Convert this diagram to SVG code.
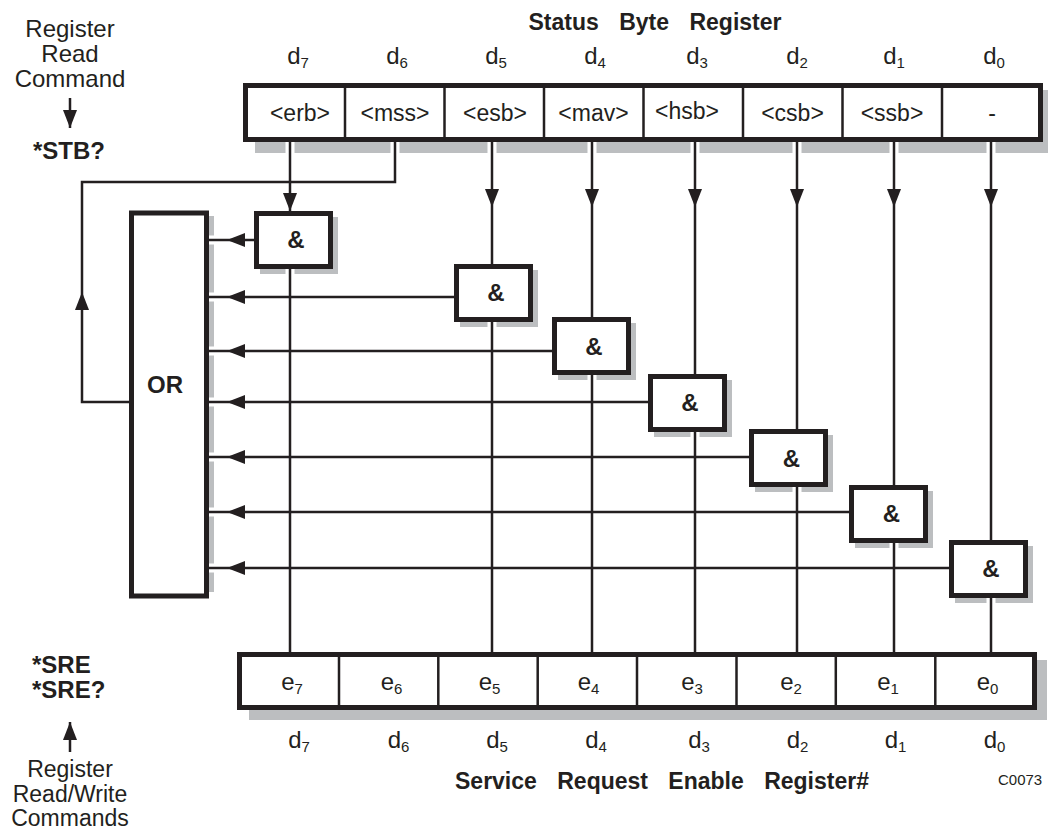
<svg xmlns="http://www.w3.org/2000/svg" width="1052" height="831" viewBox="0 0 1052 831">
<defs>
<marker id="arr" markerUnits="userSpaceOnUse" markerWidth="18" markerHeight="14" viewBox="0 0 18 14" refX="18" refY="7" orient="auto"><path d="M0,0 L18,7 L0,14 Z" fill="#231f20"/></marker>
<style>
.sh{fill:#bcbec0}
.box{fill:#fff;stroke:#231f20;stroke-width:5}
.div{stroke:#231f20;stroke-width:2.5}
.ln{fill:none;stroke:#231f20;stroke-width:2.5}
.halo{fill:none;stroke:#fff;stroke-width:9}
.arr{marker-end:url(#arr)}
text{font-family:"Liberation Sans",Arial,Helvetica,sans-serif;fill:#231f20}
.t{font-size:24px}
.s{font-size:23px}
.cl{font-size:23px}
.b{font-weight:bold}
.c{text-anchor:middle}
.sub{font-size:15px}
.ttl{font-size:23px;font-weight:bold;text-anchor:middle;word-spacing:14px}
</style>
</defs>
<rect width="1052" height="831" fill="#fff"/>

<g id="shadows">
<rect class="sh" x="255" y="90" width="793" height="63"/>
<rect class="sh" x="249" y="660" width="798" height="60"/>
<rect class="sh" x="209" y="216" width="5" height="376"/>
<rect class="sh" x="260" y="217" width="78" height="57"/>
<rect class="sh" x="460" y="270" width="78" height="57"/>
<rect class="sh" x="558" y="323" width="78" height="57"/>
<rect class="sh" x="654" y="380" width="78" height="57"/>
<rect class="sh" x="755" y="435" width="78" height="57"/>
<rect class="sh" x="855" y="491" width="78" height="57"/>
<rect class="sh" x="955" y="546" width="78" height="57"/>
</g>

<g id="connectors">
<g class="halo">
<path d="M290,142V652M395,142V182M492,142V652M592,142V652M695,142V652M797,142V652M894,142V652M991,142V652"/>
<path d="M254,240H209M454,297H209M552,351H209M648,402H209M749,457H209M849,512H209M949,568H209"/>
</g>
<g class="ln">
<path class="arr" d="M290,142V211"/><path d="M290,211V652"/>
<path class="arr" d="M492,142V207"/><path d="M492,207V652"/>
<path class="arr" d="M592,142V207"/><path d="M592,207V652"/>
<path class="arr" d="M695,142V207"/><path d="M695,207V652"/>
<path class="arr" d="M797,142V207"/><path d="M797,207V652"/>
<path class="arr" d="M894,142V207"/><path d="M894,207V652"/>
<path class="arr" d="M991,142V207"/><path d="M991,207V652"/>
<path class="arr" d="M254,240H227"/><path d="M227,240H209"/>
<path class="arr" d="M454,297H227"/><path d="M227,297H209"/>
<path class="arr" d="M552,351H227"/><path d="M227,351H209"/>
<path class="arr" d="M648,402H227"/><path d="M227,402H209"/>
<path class="arr" d="M749,457H227"/><path d="M227,457H209"/>
<path class="arr" d="M849,512H227"/><path d="M227,512H209"/>
<path class="arr" d="M949,568H227"/><path d="M227,568H209"/>
<path class="arr" d="M130,402H82V292"/><path d="M82,292V182H395V142"/>
<path class="arr" d="M70,98V128"/>
<path class="arr" d="M70,752V722"/>
</g>
</g>

<g id="status-byte-register">
<rect class="box" x="245.5" y="85.5" width="795" height="54"/>
<path class="div" d="M345,85.5V139.5M444.5,85.5V139.5M544,85.5V139.5M643.5,85.5V139.5M743,85.5V139.5M842.5,85.5V139.5M942,85.5V139.5"/>
<text class="cl c" x="300" y="121">&lt;erb&gt;</text>
<text class="cl c" x="395" y="121">&lt;mss&gt;</text>
<text class="cl c" x="495" y="121">&lt;esb&gt;</text>
<text class="cl c" x="593.5" y="121">&lt;mav&gt;</text>
<text class="cl c" x="687" y="119">&lt;hsb&gt;</text>
<text class="cl c" x="792.5" y="121">&lt;csb&gt;</text>
<text class="cl c" x="892" y="121">&lt;ssb&gt;</text>
<text class="cl c" x="992" y="121">-</text>
<text class="ttl" x="655" y="30">Status Byte Register</text>
<text class="t c" x="298" y="64">d<tspan class="sub" dy="4">7</tspan></text>
<text class="t c" x="397" y="64">d<tspan class="sub" dy="4">6</tspan></text>
<text class="t c" x="496" y="64">d<tspan class="sub" dy="4">5</tspan></text>
<text class="t c" x="595" y="64">d<tspan class="sub" dy="4">4</tspan></text>
<text class="t c" x="697" y="64">d<tspan class="sub" dy="4">3</tspan></text>
<text class="t c" x="797" y="64">d<tspan class="sub" dy="4">2</tspan></text>
<text class="t c" x="894" y="64">d<tspan class="sub" dy="4">1</tspan></text>
<text class="t c" x="994" y="64">d<tspan class="sub" dy="4">0</tspan></text>
</g>

<g id="and-d7"><rect class="box" x="256.5" y="213.5" width="74" height="53"/><text class="t b c" x="296" y="248">&amp;</text></g>
<g id="and-d5"><rect class="box" x="456.5" y="266.5" width="74" height="53"/><text class="t b c" x="496" y="301">&amp;</text></g>
<g id="and-d4"><rect class="box" x="554.5" y="319.5" width="74" height="53"/><text class="t b c" x="594" y="355">&amp;</text></g>
<g id="and-d3"><rect class="box" x="650.5" y="376.5" width="74" height="53"/><text class="t b c" x="690" y="411">&amp;</text></g>
<g id="and-d2"><rect class="box" x="751.5" y="431.5" width="74" height="53"/><text class="t b c" x="791.5" y="467">&amp;</text></g>
<g id="and-d1"><rect class="box" x="851.5" y="487.5" width="74" height="53"/><text class="t b c" x="891.5" y="522">&amp;</text></g>
<g id="and-d0"><rect class="box" x="951.5" y="542.5" width="74" height="53"/><text class="t b c" x="991" y="577">&amp;</text></g>

<g id="or-gate">
<rect class="box" x="131.5" y="213" width="75" height="383"/>
<text class="t b c" x="165" y="393">OR</text>
</g>

<g id="service-request-enable-register">
<rect class="box" x="239.5" y="654.5" width="795" height="53"/>
<path class="div" d="M339,654.5V707.5M438.3,654.5V707.5M537.7,654.5V707.5M637,654.5V707.5M736.5,654.5V707.5M835.8,654.5V707.5M935.3,654.5V707.5"/>
<text class="t c" x="292" y="690">e<tspan class="sub" dy="4">7</tspan></text>
<text class="t c" x="391.5" y="690">e<tspan class="sub" dy="4">6</tspan></text>
<text class="t c" x="489.5" y="690">e<tspan class="sub" dy="4">5</tspan></text>
<text class="t c" x="588.5" y="690">e<tspan class="sub" dy="4">4</tspan></text>
<text class="t c" x="692" y="690">e<tspan class="sub" dy="4">3</tspan></text>
<text class="t c" x="791" y="690">e<tspan class="sub" dy="4">2</tspan></text>
<text class="t c" x="888" y="690">e<tspan class="sub" dy="4">1</tspan></text>
<text class="t c" x="987.5" y="690">e<tspan class="sub" dy="4">0</tspan></text>
<text class="t c" x="299" y="748">d<tspan class="sub" dy="4">7</tspan></text>
<text class="t c" x="398.5" y="748">d<tspan class="sub" dy="4">6</tspan></text>
<text class="t c" x="497" y="748">d<tspan class="sub" dy="4">5</tspan></text>
<text class="t c" x="596" y="748">d<tspan class="sub" dy="4">4</tspan></text>
<text class="t c" x="699" y="748">d<tspan class="sub" dy="4">3</tspan></text>
<text class="t c" x="797.5" y="748">d<tspan class="sub" dy="4">2</tspan></text>
<text class="t c" x="895.5" y="748">d<tspan class="sub" dy="4">1</tspan></text>
<text class="t c" x="994.5" y="748">d<tspan class="sub" dy="4">0</tspan></text>
<text class="ttl" x="662" y="789">Service Request Enable Register#</text>
</g>

<g id="read-command-label">
<text class="t c" x="70" y="37">Register</text>
<text class="t c" x="70" y="62">Read</text>
<text class="t c" x="70" y="87">Command</text>
<text class="t b" x="33" y="159">*STB?</text>
</g>

<g id="read-write-command-label">
<text class="t b" x="32" y="673">*SRE</text>
<text class="t b" x="32" y="698">*SRE?</text>
<text class="s c" x="70" y="777">Register</text>
<text class="s c" x="70" y="802">Read/Write</text>
<text class="s c" x="70" y="826">Commands</text>
</g>

<text x="998" y="785" font-size="15">C0073</text>
</svg>
